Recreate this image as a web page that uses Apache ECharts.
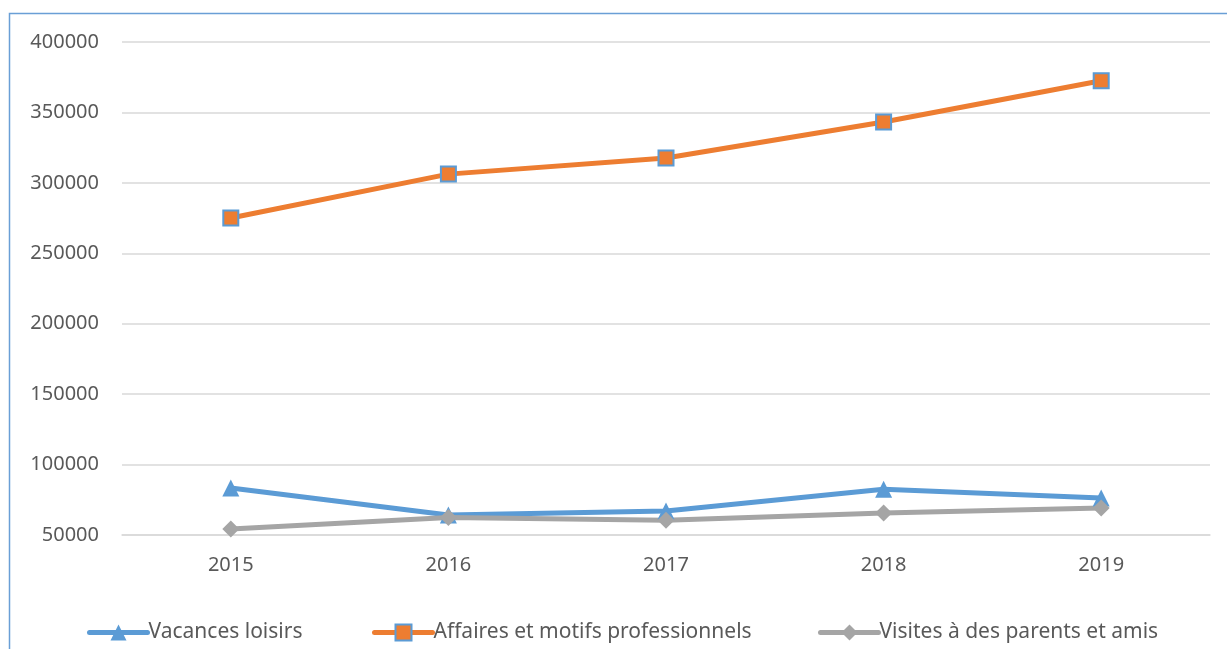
<!DOCTYPE html>
<html>
<head>
<meta charset="utf-8">
<script src="https://cdn.jsdelivr.net/npm/echarts@6/dist/echarts.min.js"></script>
<style>
  html, body { margin: 0; padding: 0; background: #fff; }
  #chart { width: 1227px; height: 649px; }
</style>
</head>
<body>
<div id="chart"></div>
<script>
var years = ['2015', '2016', '2017', '2018', '2019'];
var vacances = [83400, 64200, 67000, 82500, 76300];
var affaires = [275000, 306200, 317600, 343200, 372500];
var visites = [54300, 62500, 60400, 65600, 69200];
var seriesNames = ['Vacances loisirs', 'Affaires et motifs professionnels', 'Visites à des parents et amis'];

var font = 'Noto Sans, Open Sans, sans-serif';
var chart = echarts.init(document.getElementById('chart'));

function legendFor(name, left) {
  return {
    data: [name],
    left: left,
    top: 622,
    padding: 0,
    itemWidth: 58,
    itemHeight: 20,
    itemGap: 3,
    lineStyle: { width: 5, cap: 'round' },
    textStyle: { fontFamily: font, fontSize: 21, color: '#595959', padding: [0, 0, 0, -4] }
  };
}

chart.setOption({
  animation: false,
  backgroundColor: '#fff',
  grid: { left: 122, right: 17, top: 42, bottom: 114 },
  graphic: [{
    type: 'rect',
    shape: { x: 9.5, y: 13.5, width: 1400, height: 800 },
    style: { fill: null, stroke: '#6a9fd6', lineWidth: 1.5 },
    silent: true
  }],
  legend: [
    legendFor(seriesNames[0], 87),
    legendFor(seriesNames[1], 372),
    legendFor(seriesNames[2], 818)
  ],
  xAxis: {
    type: 'category',
    data: years,
    boundaryGap: true,
    axisLine: { lineStyle: { color: '#d9d9d9', width: 1.5 } },
    axisTick: { show: false },
    axisLabel: { fontFamily: font, fontSize: 20, color: '#595959', margin: 20 }
  },
  yAxis: {
    type: 'value',
    min: 50000,
    max: 400000,
    interval: 50000,
    axisLine: { show: false },
    axisTick: { show: false },
    splitLine: { lineStyle: { color: '#d9d9d9', width: 1.5 } },
    axisLabel: {
      fontFamily: font, fontSize: 20, color: '#595959', margin: 23,
      formatter: function (v) { return String(v); }
    }
  },
  series: [
    {
      name: seriesNames[0], type: 'line', data: vacances,
      symbol: 'triangle', symbolSize: 17,
      lineStyle: { color: '#5b9bd5', width: 5 },
      itemStyle: { color: '#5b9bd5' }
    },
    {
      name: seriesNames[1], type: 'line', data: affaires,
      symbol: 'rect', symbolSize: 15,
      lineStyle: { color: '#ed7d31', width: 5 },
      itemStyle: { color: '#ed7d31', borderColor: '#5b9bd5', borderWidth: 2 }
    },
    {
      name: seriesNames[2], type: 'line', data: visites,
      symbol: 'diamond', symbolSize: 17,
      lineStyle: { color: '#a5a5a5', width: 5 },
      itemStyle: { color: '#a5a5a5' }
    }
  ]
});
</script>
</body>
</html>
